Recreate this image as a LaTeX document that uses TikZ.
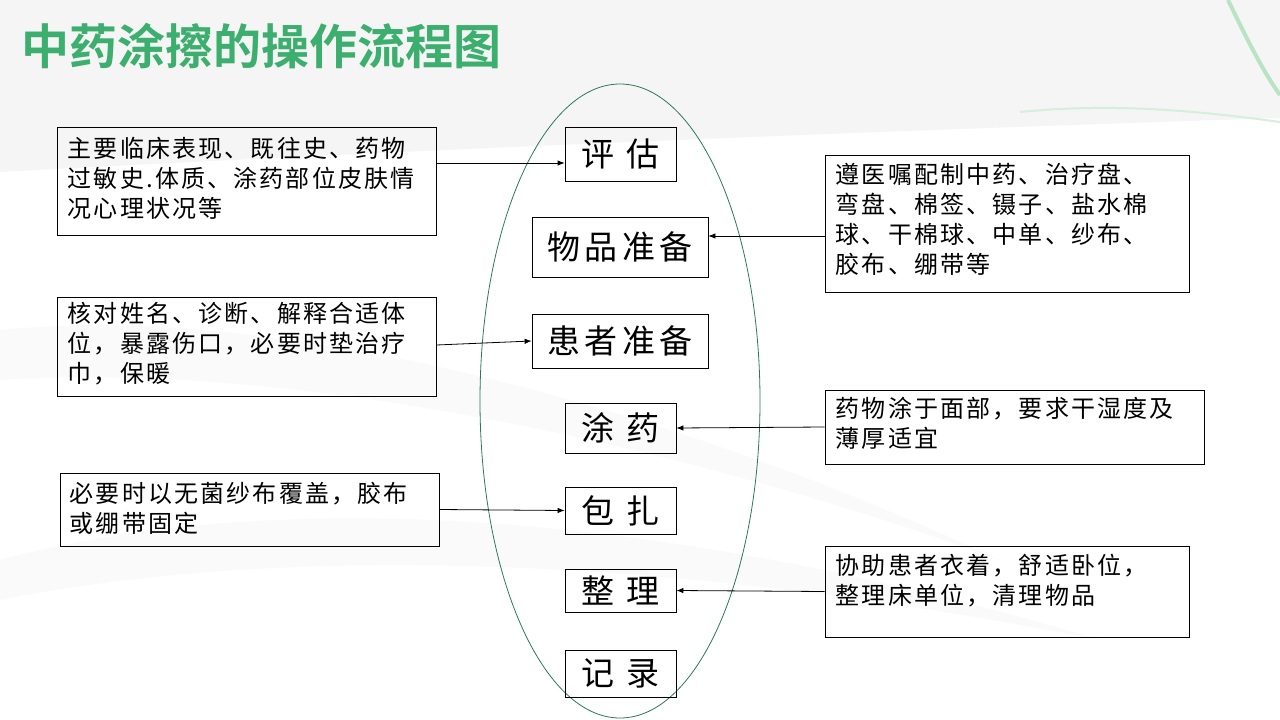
\documentclass[tikz,border=0pt]{standalone}
\usepackage{fontspec}
\newfontfamily\cjk{Noto Sans CJK SC}
\newfontfamily\cjkbox[LetterSpace=9]{Noto Sans CJK SC}
\newfontfamily\cjkmid[LetterSpace=14]{Noto Sans CJK SC}
\newfontfamily\cjkbold{Noto Sans CJK SC Bold}
\usetikzlibrary{arrows.meta,calc}
\definecolor{titlegreen}{RGB}{60,175,110}
\definecolor{ellgreen}{RGB}{45,120,85}
\definecolor{swoosh}{RGB}{185,228,195}
\tikzset{
  stepbox/.style={draw=black,line width=0.8pt,rectangle,inner sep=0pt},
  sidebox/.style={draw=black,line width=0.8pt,rectangle,inner sep=0pt},
  steptext/.style={font=\cjkmid\fontsize{33}{36}\selectfont,inner sep=0pt},
  sidetext/.style={font=\cjkbox\fontsize{24}{30}\selectfont,align=left,inner sep=0pt,anchor=north west},
  conn/.style={line width=0.8pt,-{Latex[length=7pt,width=5.5pt]}}
}
\begin{document}
\begin{tikzpicture}[x=1pt,y=-1pt]
\useasboundingbox (0,0) rectangle (1280,720);
% background
\fill[white] (0,0) rectangle (1280,720);
\fill[black!4] (0,0) -- (1280,0) -- (1280,118) .. controls (900,130) and (400,150) .. (0,172) -- cycle;
\draw[swoosh,line width=4pt] (1228,0) .. controls (1245,35) and (1262,70) .. (1280,95);
\draw[swoosh!60,line width=2pt] (1020,112) .. controls (1100,104) and (1180,108) .. (1280,122);
\fill[black!2] (0,330) .. controls (300,300) and (700,420) .. (1000,560) .. controls (700,450) and (300,360) .. (0,380) -- cycle;
\fill[black!2] (0,560) .. controls (300,480) and (700,520) .. (1100,640) .. controls (700,560) and (300,540) .. (0,600) -- cycle;
% title
\node[anchor=west,inner sep=0pt,text=titlegreen,font=\cjkbold\fontsize{48}{50}\selectfont] (title) at (21,46) {中药涂擦的操作流程图};
% ellipse
\draw[ellgreen,line width=0.8pt] (620,401) ellipse [x radius=140, y radius=317];
% step boxes
\node[stepbox,minimum width=111pt,minimum height=54pt] (E1) at (620.5,154) {};
\node[steptext] (E1t) at (E1.center) {评 估};
\node[stepbox,minimum width=176pt,minimum height=60pt] (E2) at (620,247) {};
\node[steptext] (E2t) at (E2.center) {物品准备};
\node[stepbox,minimum width=176pt,minimum height=54pt] (E3) at (620,341) {};
\node[steptext] (E3t) at (E3.center) {患者准备};
\node[stepbox,minimum width=111pt,minimum height=50pt] (E4) at (620.5,428) {};
\node[steptext] (E4t) at (E4.center) {涂 药};
\node[stepbox,minimum width=111pt,minimum height=47pt] (E5) at (620.5,510.5) {};
\node[steptext] (E5t) at (E5.center) {包 扎};
\node[stepbox,minimum width=111pt,minimum height=43pt] (E6) at (620.5,590.5) {};
\node[steptext] (E6t) at (E6.center) {整 理};
\node[stepbox,minimum width=111pt,minimum height=47pt] (E7) at (620.5,673.5) {};
\node[steptext] (E7t) at (E7.center) {记 录};
% side boxes
\node[sidebox,minimum width=379pt,minimum height=108pt] (L1) at (246.5,181) {};
\node[sidetext] (L1t) at ($(L1.north west)+(11,10)$) {主要临床表现、既往史、药物\\过敏史.体质、涂药部位皮肤情\\况心理状况等};
\node[sidebox,minimum width=364pt,minimum height=137pt] (R1) at (1007,223.5) {};
\node[sidetext] (R1t) at ($(R1.north west)+(11,8)$) {遵医嘱配制中药、治疗盘、\\弯盘、棉签、镊子、盐水棉\\球、干棉球、中单、纱布、\\胶布、绷带等};
\node[sidebox,minimum width=379pt,minimum height=99pt] (L2) at (246.5,346.5) {};
\node[sidetext] (L2t) at ($(L2.north west)+(11,5)$) {核对姓名、诊断、解释合适体\\位，暴露伤口，必要时垫治疗\\巾，保暖};
\node[sidebox,minimum width=379pt,minimum height=74pt] (R2) at (1014.5,427) {};
\node[sidetext] (R2t) at ($(R2.north west)+(11,7)$) {药物涂于面部，要求干湿度及\\薄厚适宜};
\node[sidebox,minimum width=379pt,minimum height=73pt] (L3) at (249.5,509.5) {};
\node[sidetext] (L3t) at ($(L3.north west)+(10,9)$) {必要时以无菌纱布覆盖，胶布\\或绷带固定};
\node[sidebox,minimum width=364pt,minimum height=91pt] (R3) at (1007,591.5) {};
\node[sidetext] (R3t) at ($(R3.north west)+(11,8)$) {协助患者衣着，舒适卧位，\\整理床单位，清理物品};
% connectors
\draw[conn] ([yshift=18pt]L1.east) -- ([yshift=-9pt]E1.west);
\draw[conn] ([yshift=-12.5pt]R1.west) -- ([yshift=11pt]E2.east);
\draw[conn] ([yshift=1.5pt]L2.east) -- (E3.west);
\draw[conn] (R2.west) -- (E4.east);
\draw[conn] (L3.east) -- (E5.west);
\draw[conn] (R3.west) -- (E6.east);
\end{tikzpicture}
\end{document}
